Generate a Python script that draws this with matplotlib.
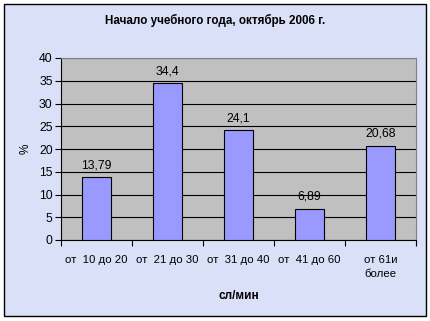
import matplotlib
matplotlib.use("Agg")
from matplotlib import pyplot as plt
from matplotlib.patches import Rectangle
import numpy as np

plt.rcParams['font.family'] = ['Liberation Sans', 'DejaVu Sans']

# data
categories = ["от  10 до 20", "от  21 до 30", "от  31 до 40", "от  41 до 60", "от 61и\nболее"]
values = [13.79, 34.4, 24.1, 6.89, 20.68]
value_labels = ["13,79", "34,4", "24,1", "6,89", "20,68"]
yticks = [0, 5, 10, 15, 20, 25, 30, 35, 40]

fig = plt.figure(figsize=(4.31, 3.21), dpi=100)
fig.patch.set_facecolor("white")

# chart area with black frame
frame = Rectangle((4 / 431, 1 - 316 / 321), 422 / 431, 312 / 321,
                  transform=fig.transFigure, facecolor="#D9E0F7",
                  edgecolor="black", linewidth=1.0, zorder=-10)
fig.patches.append(frame)

ax = fig.add_axes([61 / 431, 81 / 321, 355 / 431, 182 / 321])
ax.set_facecolor("#C0C0C0")

x = np.arange(len(categories))
ax.bar(x, values, width=0.4, color="#9999FF", edgecolor="black", linewidth=0.8, zorder=3)

for xi, v, lab in zip(x, values, value_labels):
    ax.text(xi, v + 1.3, lab, ha="center", va="bottom", fontsize=8.8)

ax.set_xlim(-0.5, len(categories) - 0.5)
ax.set_ylim(0, 40)
ax.set_yticks(yticks)
ax.yaxis.grid(True, color="black", linewidth=0.8, zorder=1)
ax.set_axisbelow(True)

# ticks at category boundaries, labels at centres
ax.set_xticks(np.arange(len(categories) + 1) - 0.5)
ax.set_xticklabels([])
ax.set_xticks(x, minor=True)
ax.set_xticklabels(categories, minor=True, fontsize=8.2, linespacing=1.5)
ax.tick_params(axis="x", which="minor", length=0, pad=11)
ax.tick_params(axis="x", which="major", length=4, width=0.8, direction="out")
ax.tick_params(axis="y", length=4, width=0.8, labelsize=8.8, pad=2)

for side in ["top", "right"]:
    ax.spines[side].set_color("#808080")
    ax.spines[side].set_linewidth(0.8)
ax.spines["left"].set_linewidth(0.8)
ax.spines["bottom"].set_linewidth(0.8)

ax.set_ylabel("%", fontsize=8.5, labelpad=5)
ax.set_xlabel("сл/мин", fontsize=8.5, fontweight="bold", labelpad=8)

fig.text(0.5, 1 - 20 / 321, "Начало учебного года, октябрь 2006 г.",
         ha="center", va="center", fontsize=8.4, fontweight="bold")

fig.savefig("out.png", dpi=100)
